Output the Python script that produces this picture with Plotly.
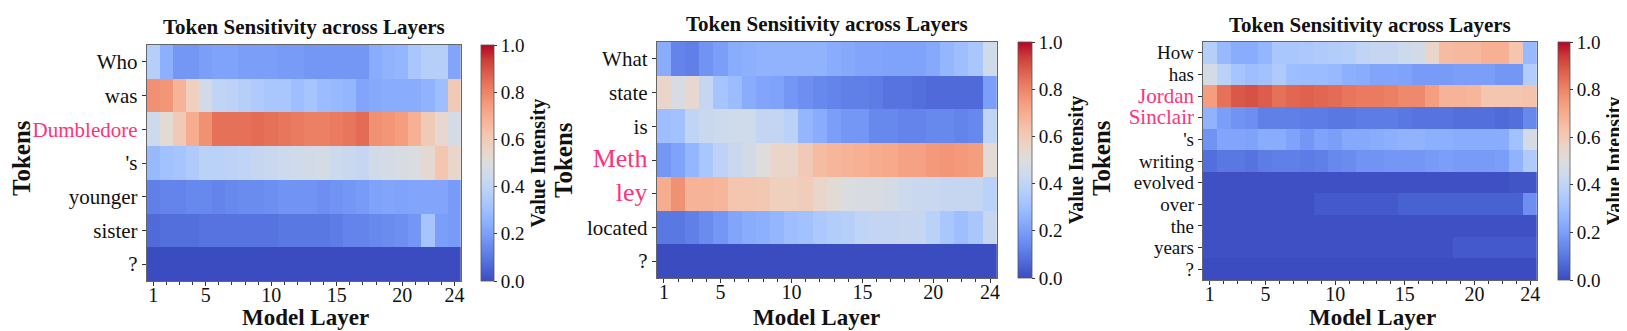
import plotly.graph_objects as go

layers = list(range(1, 25))

tokens1 = ["Who", "was", "Dumbledore", "'s", "younger", "sister", "?"]
vals1 = [
    [0.37, 0.25, 0.18, 0.18, 0.20, 0.21, 0.21, 0.20, 0.20, 0.20, 0.19, 0.19,
     0.18, 0.18, 0.18, 0.18, 0.18, 0.24, 0.26, 0.27, 0.33, 0.37, 0.37, 0.22],
    [0.77, 0.76, 0.68, 0.58, 0.46, 0.40, 0.39, 0.37, 0.35, 0.33, 0.33, 0.30,
     0.32, 0.29, 0.28, 0.27, 0.22, 0.23, 0.24, 0.24, 0.24, 0.26, 0.30, 0.60],
    [0.44, 0.52, 0.60, 0.70, 0.77, 0.84, 0.84, 0.84, 0.85, 0.84, 0.83, 0.82,
     0.81, 0.81, 0.82, 0.83, 0.85, 0.77, 0.76, 0.74, 0.69, 0.60, 0.54, 0.47],
    [0.28, 0.31, 0.32, 0.35, 0.38, 0.38, 0.39, 0.40, 0.42, 0.43, 0.44, 0.45,
     0.46, 0.47, 0.44, 0.43, 0.42, 0.46, 0.47, 0.48, 0.49, 0.53, 0.62, 0.55],
    [0.12, 0.13, 0.13, 0.14, 0.14, 0.13, 0.14, 0.15, 0.15, 0.16, 0.17, 0.17,
     0.17, 0.16, 0.17, 0.18, 0.19, 0.21, 0.22, 0.21, 0.22, 0.22, 0.22, 0.19],
    [0.07, 0.08, 0.08, 0.08, 0.09, 0.09, 0.09, 0.09, 0.09, 0.09, 0.10, 0.10,
     0.10, 0.10, 0.11, 0.13, 0.13, 0.14, 0.15, 0.16, 0.18, 0.32, 0.20, 0.19],
    [0.00] * 24,
]

tokens2 = ["What", "state", "is", "Meth", "ley", "located", "?"]
vals2 = [
    [0.24, 0.13, 0.12, 0.17, 0.20, 0.24, 0.25, 0.26, 0.26, 0.26, 0.26, 0.26,
     0.24, 0.23, 0.22, 0.22, 0.21, 0.21, 0.21, 0.23, 0.27, 0.30, 0.33, 0.45],
    [0.55, 0.48, 0.54, 0.42, 0.32, 0.29, 0.24, 0.22, 0.21, 0.18, 0.16, 0.14,
     0.13, 0.12, 0.12, 0.11, 0.09, 0.09, 0.08, 0.07, 0.07, 0.07, 0.07, 0.20],
    [0.30, 0.31, 0.40, 0.43, 0.44, 0.45, 0.45, 0.41, 0.41, 0.38, 0.27, 0.24,
     0.20, 0.18, 0.18, 0.14, 0.14, 0.13, 0.13, 0.14, 0.14, 0.13, 0.14, 0.40],
    [0.18, 0.21, 0.27, 0.33, 0.39, 0.43, 0.46, 0.50, 0.55, 0.55, 0.60, 0.65,
     0.67, 0.68, 0.69, 0.70, 0.71, 0.73, 0.73, 0.75, 0.76, 0.75, 0.74, 0.52],
    [0.70, 0.77, 0.68, 0.68, 0.67, 0.62, 0.62, 0.61, 0.58, 0.58, 0.59, 0.55,
     0.52, 0.49, 0.48, 0.48, 0.47, 0.44, 0.43, 0.43, 0.42, 0.42, 0.42, 0.38],
    [0.10, 0.10, 0.12, 0.15, 0.18, 0.22, 0.24, 0.25, 0.27, 0.30, 0.31, 0.34,
     0.36, 0.37, 0.40, 0.41, 0.41, 0.42, 0.42, 0.38, 0.33, 0.30, 0.33, 0.42],
    [0.00] * 24,
]

tokens3 = ["How", "has", "Jordan", "Sinclair", "'s", "writing", "evolved",
           "over", "the", "years", "?"]
vals3 = [
    [0.37, 0.28, 0.24, 0.24, 0.27, 0.33, 0.33, 0.34, 0.35, 0.36, 0.37, 0.40,
     0.42, 0.42, 0.44, 0.46, 0.55, 0.65, 0.66, 0.66, 0.69, 0.69, 0.62, 0.28],
    [0.47, 0.38, 0.32, 0.30, 0.31, 0.35, 0.30, 0.29, 0.29, 0.28, 0.25, 0.24,
     0.22, 0.22, 0.21, 0.19, 0.19, 0.19, 0.20, 0.20, 0.20, 0.18, 0.18, 0.36],
    [0.74, 0.84, 0.89, 0.90, 0.88, 0.84, 0.86, 0.87, 0.86, 0.85, 0.83, 0.82,
     0.82, 0.81, 0.79, 0.79, 0.74, 0.68, 0.68, 0.67, 0.62, 0.62, 0.62, 0.63],
    [0.26, 0.20, 0.17, 0.16, 0.12, 0.12, 0.12, 0.11, 0.11, 0.10, 0.10, 0.11,
     0.11, 0.11, 0.10, 0.09, 0.09, 0.09, 0.08, 0.08, 0.08, 0.07, 0.08, 0.14],
    [0.17, 0.22, 0.22, 0.21, 0.24, 0.24, 0.21, 0.18, 0.21, 0.20, 0.23, 0.23,
     0.24, 0.25, 0.26, 0.26, 0.25, 0.25, 0.24, 0.24, 0.24, 0.24, 0.31, 0.47],
    [0.08, 0.10, 0.10, 0.09, 0.11, 0.12, 0.12, 0.11, 0.12, 0.14, 0.15, 0.17,
     0.17, 0.18, 0.18, 0.18, 0.19, 0.20, 0.19, 0.19, 0.19, 0.20, 0.26, 0.35],
    [0.01, 0.01, 0.01, 0.01, 0.01, 0.01, 0.01, 0.01, 0.01, 0.01, 0.01, 0.01,
     0.01, 0.01, 0.01, 0.01, 0.01, 0.01, 0.01, 0.01, 0.01, 0.01, 0.02, 0.02],
    [0.01, 0.01, 0.01, 0.01, 0.01, 0.01, 0.01, 0.01, 0.03, 0.03, 0.03, 0.03,
     0.03, 0.03, 0.05, 0.05, 0.05, 0.05, 0.05, 0.05, 0.05, 0.05, 0.05, 0.16],
    [0.01] * 24,
    [0.01, 0.01, 0.01, 0.01, 0.01, 0.01, 0.01, 0.01, 0.01, 0.01, 0.01, 0.01,
     0.01, 0.01, 0.01, 0.01, 0.01, 0.01, 0.03, 0.03, 0.03, 0.03, 0.03, 0.03],
    [0.00] * 24,
]

highlight1 = ["Dumbledore"]
highlight2 = ["Meth", "ley"]
highlight3 = ["Jordan", "Sinclair"]

cbar_ticks = [0.0, 0.2, 0.4, 0.6, 0.8, 1.0]
xticks = [1, 5, 10, 15, 20, 24]

# matplotlib "coolwarm"
coolwarm = [
    [0.0, "rgb(59,76,192)"], [0.0625, "rgb(77,104,215)"],
    [0.125, "rgb(98,130,234)"], [0.1875, "rgb(119,154,247)"],
    [0.25, "rgb(141,176,254)"], [0.3125, "rgb(163,194,255)"],
    [0.375, "rgb(184,208,249)"], [0.4375, "rgb(204,217,238)"],
    [0.5, "rgb(221,221,221)"], [0.5625, "rgb(236,211,197)"],
    [0.625, "rgb(245,196,173)"], [0.6875, "rgb(247,177,148)"],
    [0.75, "rgb(244,154,123)"], [0.8125, "rgb(236,127,99)"],
    [0.875, "rgb(222,96,77)"], [0.9375, "rgb(203,62,56)"],
    [1.0, "rgb(180,4,38)"],
]

W, H = 1627, 331
FONT = "Liberation Serif, Times New Roman, serif"
PINK = "#ff3378"

def px_x(v):
    return v / W

def px_y(v):
    return (H - v) / H

panels = [
    dict(tokens=tokens1, vals=vals1, hl=highlight1, box=(139, 454, 37, 273),
         cb=474, cbw=13, title_y=19, tok_x=13, tok_y=150, ml_x=298,
         fs=21, hfs=21),
    dict(tokens=tokens2, vals=vals2, hl=highlight2, box=(650, 991, 34, 270),
         cb=1012, cbw=14, title_y=16, tok_x=557, tok_y=152, ml_x=810,
         fs=21, hfs=26),
    dict(tokens=tokens3, vals=vals3, hl=highlight3, box=(1197, 1532, 34, 272),
         cb=1553, cbw=12, title_y=17, tok_x=1095, tok_y=150, ml_x=1367,
         fs=19, hfs=21),
]

fig = go.Figure()
annotations = []
layout = {}

for i, p in enumerate(panels):
    n = i + 1
    sfx = "" if n == 1 else str(n)
    x0, x1, y0, y1 = p["box"]
    ticktext = []
    for t in p["tokens"]:
        if t in p["hl"]:
            ticktext.append(f'<span style="color:{PINK};font-size:{p["hfs"]}px">{t}</span>')
        else:
            ticktext.append(t)
    fig.add_trace(go.Heatmap(
        z=p["vals"], x=layers, y=list(range(len(p["tokens"]))),
        zmin=0, zmax=1, colorscale=coolwarm,
        xaxis="x" + sfx, yaxis="y" + sfx,
        colorbar=dict(
            x=px_x(p["cb"]), xanchor="left", xpad=0, ypad=0,
            y=px_y(y1), yanchor="bottom", len=(y1 - y0) / H, lenmode="fraction",
            thickness=p["cbw"], thicknessmode="pixels",
            tickvals=cbar_ticks, ticktext=[f"{v:.1f}" for v in cbar_ticks],
            ticks="outside", ticklen=3, tickcolor="#333",
            tickfont=dict(family=FONT, size=19, color="#111"),
            title=dict(text="<b>Value Intensity</b>", side="right",
                       font=dict(family=FONT, size=20, color="#111")),
            outlinewidth=0.8, outlinecolor="#555",
        ),
    ))
    layout["xaxis" + sfx] = dict(
        domain=[px_x(x0), px_x(x1)], anchor="y" + sfx, range=[0.5, 24.5],
        tickvals=xticks, ticks="outside", ticklen=4, tickcolor="#333",
        ticklabelstandoff=-8,
        tickfont=dict(family=FONT, size=20, color="#111"),
        minor=dict(tick0=1, dtick=1, ticks="outside", ticklen=3, tickcolor="#333"),
        showgrid=False, zeroline=False, showline=True, mirror=True,
        linecolor="#666", linewidth=1,
    )
    layout["yaxis" + sfx] = dict(
        domain=[px_y(y1), px_y(y0)], anchor="x" + sfx,
        range=[len(p["tokens"]) - 0.5, -0.5],
        tickvals=list(range(len(p["tokens"]))), ticktext=ticktext,
        ticks="outside", ticklen=4, tickcolor="#333",
        tickfont=dict(family=FONT, size=p["fs"], color="#111"),
        showgrid=False, zeroline=False, showline=True, mirror=True,
        linecolor="#666", linewidth=1,
    )
    cx = (x0 + x1) / 2
    annotations += [
        dict(text="<b>Token Sensitivity across Layers</b>", x=px_x(cx), y=px_y(p["title_y"]),
             font=dict(family=FONT, size=21, color="#111")),
        dict(text="<b>Tokens</b>", x=px_x(p["tok_x"]), y=px_y(p["tok_y"]), textangle=-90,
             font=dict(family=FONT, size=25, color="#111")),
        dict(text="<b>Model Layer</b>", x=px_x(p["ml_x"]), y=px_y(309),
             font=dict(family=FONT, size=23, color="#111")),
    ]

for a in annotations:
    a.update(xref="paper", yref="paper", showarrow=False, xanchor="center", yanchor="middle")

fig.update_layout(
    width=W, height=H, margin=dict(l=0, r=0, t=0, b=0),
    paper_bgcolor="white", plot_bgcolor="white",
    font=dict(family=FONT, color="#111"),
    annotations=annotations, **layout,
)

fig.write_html("out.html")
